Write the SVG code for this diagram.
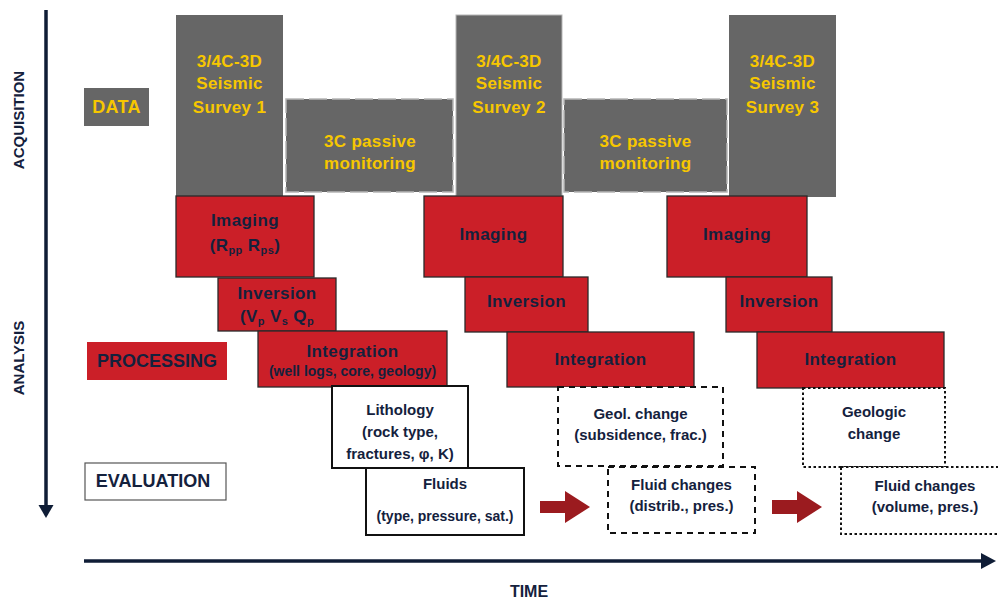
<svg xmlns="http://www.w3.org/2000/svg" width="998" height="600" viewBox="0 0 998 600">
<defs>
<style>
text{font-family:"Liberation Sans",Arial,sans-serif;font-weight:bold;text-anchor:middle}
.y{fill:#F7C700;font-size:17px;letter-spacing:0.3px}
.n{fill:#14213D}
.big{font-size:17px;letter-spacing:0.4px}
.med{font-size:15px}
.sm{font-size:14px}
.lab{font-size:18px}
.ax{font-size:15px}
.gray{fill:#666666}
.mon{fill:#666666;stroke:#B5B5B5;stroke-width:1.5;stroke-dasharray:18 5}
.red{fill:#CB1F28;stroke:#2A2A2A;stroke-width:1.3}
.solid{fill:#fff;stroke:#111;stroke-width:2}
.dash{fill:#fff;stroke:#111;stroke-width:2;stroke-dasharray:6 5}
.dot{fill:#fff;stroke:#111;stroke-width:2;stroke-dasharray:2.5 2.5}
.sub{font-size:11px}
</style>
</defs>

<g id="axes" fill="#0F1D36" stroke="#0F1D36">
<line x1="46" y1="10" x2="46" y2="506" stroke-width="3.5"/>
<polygon points="38.5,505 53.5,505 46,518" stroke="none"/>
<line x1="84" y1="561" x2="982" y2="561" stroke-width="3.5"/>
<polygon points="981,553 981,569 996,561" stroke="none"/>
</g>
<text class="n ax" transform="translate(24 120) rotate(-90)">ACQUISITION</text>
<text class="n ax" transform="translate(24 358) rotate(-90)">ANALYSIS</text>
<text class="n ax" x="529" y="597" style="font-size:16px">TIME</text>

<g id="data"><rect class="gray" x="84" y="88" width="65" height="38"/><text class="y" x="116.5" y="113" style="font-size:18px">DATA</text></g>
<g id="processing"><rect x="87" y="342" width="140" height="38" fill="#CB1F28"/><text class="n lab" x="157" y="367">PROCESSING</text></g>
<g id="evaluation"><rect x="85" y="463" width="141" height="37" fill="#fff" stroke="#555" stroke-width="1.2"/><text class="n lab" x="153" y="487">EVALUATION</text></g>

<g id="survey1"><rect class="gray" x="176" y="15" width="107" height="181"/>
<text class="y" x="229.5" y="67">3/4C-3D</text><text class="y" x="229.5" y="89">Seismic</text><text class="y" x="229.5" y="113">Survey 1</text></g>
<g id="passive1"><rect class="mon" x="286" y="99" width="167" height="93"/>
<text class="y" x="370" y="147">3C passive</text><text class="y" x="370" y="169">monitoring</text></g>
<g id="survey2"><rect class="gray" x="456" y="15" width="106" height="181" stroke="#B5B5B5" stroke-width="1"/>
<text class="y" x="509" y="67">3/4C-3D</text><text class="y" x="509" y="89">Seismic</text><text class="y" x="509" y="113">Survey 2</text></g>
<g id="passive2"><rect class="mon" x="564" y="99" width="163" height="93"/>
<text class="y" x="645.5" y="147">3C passive</text><text class="y" x="645.5" y="169">monitoring</text></g>
<g id="survey3"><rect class="gray" x="729" y="15" width="107" height="182"/>
<text class="y" x="782.5" y="67">3/4C-3D</text><text class="y" x="782.5" y="89">Seismic</text><text class="y" x="782.5" y="113">Survey 3</text></g>

<g id="imaging1"><rect class="red" x="176" y="196" width="138" height="81"/>
<text class="n big" x="245" y="226">Imaging</text>
<text class="n big" x="245" y="251">(R<tspan class="sub" dy="3">pp</tspan><tspan dy="-3"> R</tspan><tspan class="sub" dy="3">ps</tspan><tspan dy="-3">)</tspan></text></g>
<g id="inversion1"><rect class="red" x="218" y="278" width="118" height="53"/>
<text class="n big" x="277" y="299">Inversion</text>
<text class="n big" x="277" y="322">(V<tspan class="sub" dy="3">p</tspan><tspan dy="-3"> V</tspan><tspan class="sub" dy="3">s</tspan><tspan dy="-3"> Q</tspan><tspan class="sub" dy="3">p</tspan></text></g>
<g id="integration1"><rect class="red" x="258" y="331" width="189" height="56"/>
<text class="n big" x="352.5" y="357">Integration</text>
<text class="n sm" x="352.5" y="376">(well logs, core, geology)</text></g>

<g id="imaging2"><rect class="red" x="424" y="196" width="139" height="81"/><text class="n big" x="493.5" y="240">Imaging</text></g>
<g id="inversion2"><rect class="red" x="465" y="277" width="123" height="55"/><text class="n big" x="526.5" y="307">Inversion</text></g>
<g id="integration2"><rect class="red" x="507" y="332" width="187" height="55"/><text class="n big" x="600.5" y="365">Integration</text></g>

<g id="imaging3"><rect class="red" x="667" y="196" width="140" height="81"/><text class="n big" x="737" y="240">Imaging</text></g>
<g id="inversion3"><rect class="red" x="726" y="277" width="106" height="55"/><text class="n big" x="779" y="307">Inversion</text></g>
<g id="integration3"><rect class="red" x="757" y="332" width="187" height="56"/><text class="n big" x="850.5" y="365">Integration</text></g>

<g id="lithology"><rect class="solid" x="332" y="386" width="136" height="82"/>
<text class="n med" x="400" y="415">Lithology</text>
<text class="n med" x="400" y="437">(rock type,</text>
<text class="n med" x="400" y="459">fractures, φ, K)</text></g>
<g id="fluids"><rect class="solid" x="366" y="468" width="158" height="67"/>
<text class="n med" x="445" y="489">Fluids</text>
<text class="n sm" x="445" y="521">(type, pressure, sat.)</text></g>

<g id="geolchange"><rect class="dash" x="558" y="387" width="165" height="79"/>
<text class="n med" x="640.5" y="419">Geol. change</text>
<text class="n med" x="640.5" y="440">(subsidence, frac.)</text></g>
<g id="fluidchanges2"><rect class="dash" x="608" y="467" width="147" height="66"/>
<text class="n med" x="681.5" y="490">Fluid changes</text>
<text class="n med" x="681.5" y="511">(distrib., pres.)</text></g>

<g id="geologicchange"><rect class="dot" x="803" y="388" width="142" height="79"/>
<text class="n med" x="874" y="417">Geologic</text>
<text class="n med" x="874" y="439">change</text></g>
<g id="fluidchanges3"><rect class="dot" x="841" y="467" width="162" height="67"/>
<text class="n med" x="925" y="491">Fluid changes</text>
<text class="n med" x="925" y="512">(volume, pres.)</text></g>

<g id="connectors" fill="#9B1B1F">
<polygon points="540,501 565,501 565,491 590,507 565,523 565,513 540,513"/>
<polygon points="772,500 797,500 797,491 822,507 797,523 797,514 772,514"/>
</g>
</svg>
